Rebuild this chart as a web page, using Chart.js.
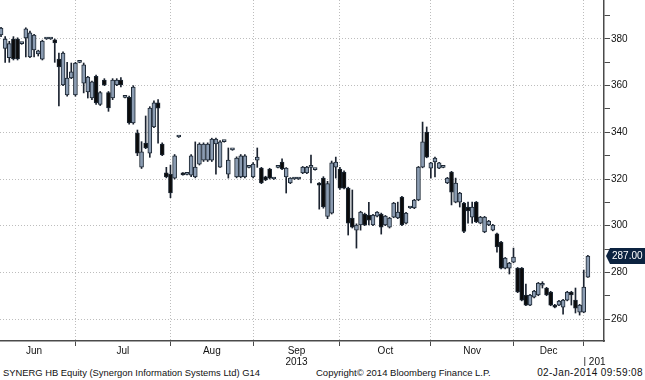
<!DOCTYPE html>
<html>
<head>
<meta charset="utf-8">
<script src="https://cdn.jsdelivr.net/npm/chart.js@4.4.1/dist/chart.umd.min.js"></script>
<style>
html, body { margin: 0; padding: 0; background: #fff; }
#wrap { position: relative; width: 645px; height: 380px; overflow: hidden; }
#c { position: absolute; left: 0; top: 0; }
.foot { position: absolute; top: 367px; font: 10px "Liberation Sans", Arial, sans-serif; color: #111; white-space: nowrap; }
</style>
</head>
<body>
<div id="wrap">
  <canvas id="c" width="645" height="366"></canvas>
  <div class="foot" style="left:3px;font-size:9.4px">SYNERG HB Equity (Synergon Information Systems Ltd) G14</div>
  <div class="foot" style="left:316px;font-size:9.5px">Copyright© 2014 Bloomberg Finance L.P.</div>
  <div class="foot" style="right:2px;letter-spacing:0.4px">02-Jan-2014 09:59:08</div>
</div>
<script>
// Daily candles, June 2013 -> 2 Jan 2014
const opens = [381.7,376,372,380,380,378,380.4,372.3,375.3,373.6,371.4,380,380,379.6,371.4,360.3,356,363.3,356,370,
  361.1,357.3,354.7,364,352,362.4,357,354.7,360.3,362.4,355,355,344,339.7,325.1,335.4,331.1,342.3,352.6,335,
  322.6,322,320.4,338,322.5,322,321.7,320.9,326.4,328.1,328.1,328.1,335,325.1,336,322.1,332.5,320.9,320.9,320.9,
  325,320.9,328.1,324.7,320.9,324.3,320,325,327.3,320.9,318.3,320,320,322.6,322.6,325,324,318.3,320.4,304,
  305.4,325.1,324.3,323,316.1,303.3,298.1,300.3,305,304.5,300.3,304.1,305,300.3,299.4,303.7,303.3,312.3,301.1,307.6,
  307.6,311,325.1,340.1,324.7,327.3,324.7,325,318.3,323,310.1,310.1,309.7,308,303.7,310.1,301.1,297.3,300.3,298.1,
  296.5,293,281.8,281.8,284.4,281.8,281.8,270.3,266,269.4,270.3,274.5,273.3,271.6,266,266,265.1,268.1,271.6,268.1,
  263,263,278];
const highs = [385,381,379,381,380.5,378.3,384.8,383.4,382,375.2,379.5,380.2,380.2,380,374,374.5,370,369.7,370,370.2,
  369.7,364,362,364.5,357.5,363,357.5,363,363,363.5,355.2,355.5,360,341,336,347,351,353.5,354,335.5,
  325,326,330.5,338.2,322.8,322.2,330.5,335.9,335.5,335.5,335.5,337.5,337.5,336.5,336.2,333.3,332.7,329.5,330.5,330.5,
  325.2,327,333.3,325,321.2,324.6,320.2,325.2,328.6,324.9,320.6,320.2,320.2,325.4,325.4,330.3,324.2,318.5,321,319,
  327.7,329.4,325,323.5,316.5,315.3,300.8,306.2,305.4,310,304.9,306.1,305.4,304.4,303.6,310,310.1,312.6,305.7,307.8,
  311.3,325.4,344.4,342.3,327.2,329.4,327.2,325.2,320.7,323.3,320.4,314.3,310,310.1,310.1,310.4,304,304,302.3,300.6,
  296.8,293.3,286.4,284.3,290.4,282.1,282.1,275,270.6,272.3,275.7,276,273.6,271.9,266.3,268,268.4,271.9,271.9,273.3,
  266.3,281,287.3];
const lows = [381,370,370,371,371,377.7,372.3,372,372.3,372.7,371,379.8,379.8,370,351.3,360,355.5,363,355.5,369.8,
  356.9,354.7,354,352,351.5,360,349,354,360,359.5,354.8,343.5,343.5,330,324.5,333,329.3,342,335.4,330,
  320.5,312,320,337.8,321.6,321.8,321,320.5,326,327.5,327.5,327.5,322.1,325,335.8,320.4,332.3,320.5,320.5,320.5,
  324.8,320.5,325,318,319.3,320,319.8,324.8,324,314,318,319.8,319.8,322.3,322.3,318.3,323.8,307.1,307.5,303,
  305,320.4,315.5,315.8,296,299,290.4,298.1,300,300.3,300,303.8,296.4,300,299,303.4,303,300,300.8,307.4,
  307.3,310.7,324.8,329.1,320.4,320.9,324.4,324.8,318,308.9,309.8,308,297,301.1,301.1,301.3,300.8,297,300,297.8,
  288.7,281.5,281.5,279.3,284.1,271.3,267.8,265.7,265.7,269.1,270,273.3,270,265.7,264.8,265.7,262.1,267.8,266,262.6,
  261.7,262.7,277.8];
const closes = [384.7,380,378,371.5,371.5,378,384.3,382.6,381.7,374.9,379.1,380,380,378.3,368,374,363.3,365.9,369.7,370,
  368.9,363.7,361.6,352.6,357,360.3,350.5,362.4,362.4,360.3,355,344,359.4,331.1,331.6,333.3,350.4,352.6,350.4,330.3,
  320.9,314,329.9,338,321.8,322,329.9,325.1,335,335,335,337.1,337.1,335.9,336,328.1,332.5,329,329.9,329.9,
  325,326.4,329.4,318.3,319.6,320.4,320,325,324.3,324.7,320.4,320,320,325.1,325.1,325.8,324,317.4,308,318,
  326.9,327.3,316.1,316.1,301.1,299.4,300.3,305.8,300.3,302.4,304.6,305.8,299.4,304.1,303.3,309.7,305.8,300.3,305.4,307.6,
  311,325.1,335.9,329.4,326.9,329,326.9,325,320.4,314.4,318.3,314,297.5,306.3,308,301.6,303.7,303.7,302,300.3,
  290.9,281.8,286.1,284,286.6,271.6,268.1,266,270.3,272,275.4,274.8,270.3,266,265.1,267.7,268.1,271.6,270.3,264.7,
  266,273.7,287];

const monthNames = ["Jun", "Jul", "Aug", "Sep", "Oct", "Nov", "Dec"];
const monthStarts = [-2, 18, 41, 61, 82, 104, 124, 141]; // candle index where each month starts (Jun .. Jan)
const yearLabel = "2013";
const nextYearLabel = "| 201";
const yTicks = [260, 270, 280, 290, 300, 310, 320, 330, 340, 350, 360, 370, 380, 390];
const lastPrice = 287.00;

const font = { family: "Liberation Sans", size: 10, lineHeight: 1.1 };
const gridColor = "#bdbdbd";
const axisColor = "#4a4a4a";

// x ticks: month boundaries carry grid lines, mid-month ticks carry the names
const xTicks = [];
monthStarts.slice(1).forEach(v => xTicks.push({ v: v, label: "", grid: true }));
monthNames.forEach((m, i) => {
    const mid = (monthStarts[i] + monthStarts[i + 1]) / 2;
    xTicks.push({ v: mid, label: m === "Sep" ? [m, yearLabel] : m, grid: false });
});
xTicks.push({ v: monthStarts[7] + 2.6, label: ["", nextYearLabel], grid: false });
xTicks.sort((a, b) => a.v - b.v);

const idx = closes.map((_, i) => i);
const isUp = i => closes[i] >= opens[i];

const priceTag = {
    id: "priceTag",
    afterDraw(chart) {
        const ctx = chart.ctx;
        const y = chart.scales.y.getPixelForValue(lastPrice);
        const x0 = chart.chartArea.right + 2;
        ctx.save();
        ctx.fillStyle = "#0c2340";
        ctx.beginPath();
        ctx.moveTo(x0, y);
        ctx.lineTo(x0 + 4, y - 8);
        ctx.lineTo(645, y - 8);
        ctx.lineTo(645, y + 8);
        ctx.lineTo(x0 + 4, y + 8);
        ctx.closePath();
        ctx.fill();
        ctx.fillStyle = "#fff";
        ctx.font = "10px 'Liberation Sans'";
        ctx.textBaseline = "middle";
        ctx.fillText(lastPrice.toFixed(2), x0 + 6, y + 0.5);
        ctx.restore();
    }
};

new Chart(document.getElementById("c"), {
    type: "bar",
    data: {
        datasets: [{
            label: "body",
            data: idx.map(i => ({ x: i, y: [opens[i], closes[i]] })),
            backgroundColor: ctx => isUp(ctx.dataIndex) ? "#8b9cb2" : "#0b0b0b",
            borderColor: "#1c2733",
            borderWidth: 1,
            borderSkipped: false,
            barThickness: 4,
            minBarLength: 2,
            grouped: false
        }, {
            label: "wick",
            data: idx.map(i => ({ x: i, y: [lows[i], highs[i]] })),
            backgroundColor: "#1b2330",
            barThickness: 1,
            grouped: false
        }]
    },
    options: {
        responsive: false,
        animation: false,
        layout: { padding: 0 },
        plugins: { legend: { display: false }, tooltip: { enabled: false } },
        scales: {
            x: {
                type: "linear",
                min: -0.25,
                max: 145.9,
                offset: false,
                afterBuildTicks: s => { s.ticks = xTicks.map(t => ({ value: t.v })); },
                afterFit: s => { s.height = 25; s.paddingLeft = 0; s.paddingRight = 0; },
                ticks: {
                    autoSkip: false, maxRotation: 0, padding: 0,
                    font: font, color: "#111",
                    callback: (v, i) => xTicks[i].label
                },
                grid: {
                    offset: false,
                    color: c => (c.index !== undefined && xTicks[c.index] && xTicks[c.index].grid) ? gridColor : "rgba(0,0,0,0)",
                    tickColor: c => (c.index !== undefined && xTicks[c.index] && xTicks[c.index].grid) ? axisColor : "rgba(0,0,0,0)",
                    tickLength: 5
                },
                border: { color: axisColor, width: 1.5, dash: [1, 2] }
            },
            y: {
                position: "right",
                min: 250.6,
                max: 396.7,
                afterBuildTicks: s => { s.ticks = yTicks.map(v => ({ value: v })); },
                afterFit: s => { s.width = 41; s.paddingTop = 0; s.paddingBottom = 0; },
                ticks: {
                    padding: 1, font: font, color: "#111",
                    callback: v => v % 20 === 0 ? String(v) : ""
                },
                grid: {
                    color: c => (c.tick && c.tick.value % 20 === 0) ? gridColor : "rgba(0,0,0,0)",
                    tickColor: axisColor,
                    tickLength: 6
                },
                border: { color: axisColor, width: 1.5, dash: [1, 2] }
            }
        }
    },
    plugins: [priceTag]
});
</script>
</body>
</html>
